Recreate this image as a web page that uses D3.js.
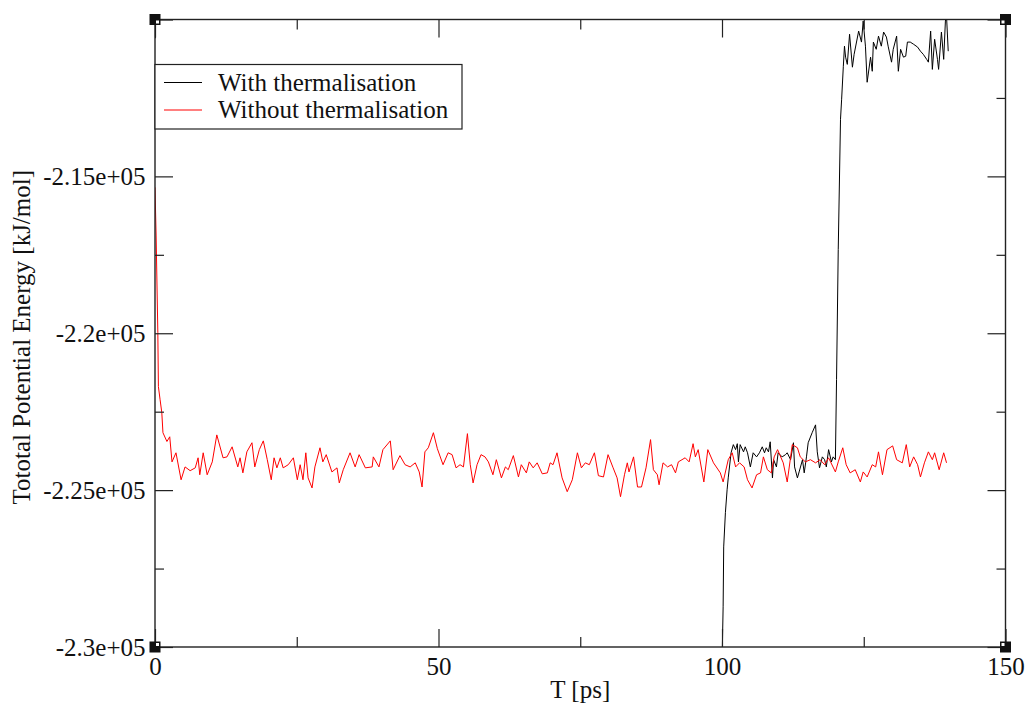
<!DOCTYPE html>
<html>
<head>
<meta charset="utf-8">
<script src="https://cdn.jsdelivr.net/npm/d3@7"></script>
<style>
  body { margin: 0; background: #fff; }
  svg { display: block; font-family: "Liberation Serif", "Times New Roman", serif; }
</style>
</head>
<body>
<div id="chart"></div>
<script>
// Series (time in ps, energy in kJ/mol)
var redTime = [0, 0.2, 0.5, 0.6, 0.9, 1.2, 1.4, 2.1, 2.6, 3.0, 3.7, 4.6, 5.3, 6.2, 7.1, 7.6, 7.9, 8.5, 9.2, 10.1,
  10.9, 12.0, 12.7, 13.6, 14.6, 15.0, 15.5, 16.2, 17.1, 17.6, 18.4, 19.1, 19.8, 20.5, 21.0, 21.5, 22.1, 22.6, 23.5, 24.4,
  25.1, 25.6, 26.1, 26.6, 27.0, 27.7, 28.2, 29.1, 29.6, 30.2, 31.2, 32.1, 32.5, 33.2, 34.4, 35.3, 36.0, 37.1, 38.3, 38.5,
  39.5, 40.2, 41.5, 42.0, 43.2, 44.1, 45.0, 45.9, 46.6, 47.1, 47.6, 48.2, 49.1, 49.8, 50.8, 51.7, 52.4, 53.1, 53.8, 54.4,
  55.1, 55.6, 56.1, 56.8, 57.5, 58.2, 58.8, 59.6, 60.2, 61.1, 61.8, 62.3, 63.2, 64.1, 64.6, 65.5, 66.0, 66.7, 67.4, 68.3,
  69.2, 69.7, 70.2, 70.9, 71.8, 72.7, 73.6, 74.5, 75.2, 75.9, 76.6, 77.5, 78.2, 79.1, 79.9, 80.8, 81.5, 82.1, 82.8, 83.3,
  83.6, 84.4, 85.1, 85.8, 86.6, 87.4, 87.9, 88.6, 88.9, 89.6, 90.4, 91.1, 91.8, 92.3, 93.5, 94.2, 94.9, 95.3, 95.8, 96.8,
  97.5, 98.5, 99.7, 100.2, 101.1, 101.8, 102.4, 103.1, 103.9, 104.5, 105.3, 106.1, 106.8, 107.3, 108.0, 108.7, 109.2, 109.8, 110.8, 111.5,
  112.4, 113.3, 113.8, 114.7, 115.6, 116.5, 117.3, 118.1, 118.8, 120.0, 120.5, 121.3, 121.9, 122.6, 123.5, 124.4, 124.9, 125.6, 126.5, 127.1,
  127.6, 128.3, 129.1, 130.1, 130.8, 131.8, 132.5, 133.1, 133.8, 134.5, 135.0, 135.7, 136.4, 137.1, 137.5, 138.3, 139.1, 139.6];

var redEnergy = [-215350, -216900, -219980, -221700, -222120, -222530, -223170, -223450, -223300, -224100, -223810, -224670, -224260, -224380, -224290, -223970, -224510, -223810, -224510, -224100,
  -223240, -223970, -223940, -223620, -224260, -223970, -224450, -223780, -223490, -224260, -223710, -223430, -224030, -224670, -223970, -224290, -223970, -224290, -224190, -223970,
  -224670, -224190, -224670, -223810, -224610, -224930, -224260, -223650, -224100, -223870, -224420, -224290, -224770, -224350, -223810, -224260, -223870, -224290, -224260, -223940,
  -224260, -223710, -223430, -224350, -223900, -224190, -224260, -224130, -224420, -224900, -223780, -223650, -223170, -223680, -224190, -223810, -223870, -224290, -224190, -224260,
  -223200, -224190, -224770, -224190, -223870, -223940, -224100, -224510, -224030, -224610, -224260, -224350, -223900, -224580, -224190, -224450, -224100, -224290, -224130, -224480,
  -224450, -224130, -224190, -223810, -224610, -225050, -224670, -223810, -224290, -224130, -224190, -223810, -224540, -224580, -223870, -224290, -224610, -225210, -224510, -224130,
  -224420, -223940, -224900, -224900, -224290, -223390, -224350, -224510, -224830, -224130, -224260, -224190, -224450, -224100, -223970, -224100, -223520, -223940, -223710, -224740,
  -223710, -224130, -224450, -224740, -224030, -223810, -224260, -224130, -224260, -224670, -224930, -224510, -224450, -223940, -224350, -224450, -223940, -223710, -224130, -224740,
  -223550, -223650, -223940, -224100, -224030, -224130, -224030, -224190, -223970, -224420, -224100, -223650, -224190, -224450, -224350, -224740, -224420, -224580, -224190, -224260,
  -223780, -224510, -223710, -223590, -224030, -224130, -223550, -224260, -223940, -224190, -224580, -224130, -223780, -224030, -223810, -224350, -223810, -224130];

var blackTime = [0, 0.05, 0.1, 100.0, 100.2, 100.3, 100.6, 100.9, 101.1, 101.6, 102.0, 102.4, 102.7, 102.9, 103.2, 103.8, 104.1, 104.5,
  105.0, 105.5, 106.1, 106.6, 107.1, 107.5, 107.8, 108.2, 108.5, 108.9, 109.1, 109.6, 109.9, 110.6, 111.2, 111.5, 112.1, 112.6,
  112.8, 113.3, 113.6, 114.2, 114.5, 114.9, 115.2, 115.9, 116.5, 116.8, 117.2, 117.7, 118.1, 118.4, 118.8, 119.3, 119.6, 120.0,
  120.2, 120.5, 120.9, 121.1, 121.4, 121.6, 121.8, 122.1, 122.5, 123.0, 123.3, 124.1, 124.6, 124.9, 125.3, 125.6, 126.2, 126.5,
  126.7, 127.2, 127.6, 128.1, 128.5, 129.0, 129.3, 129.9, 130.2, 130.8, 131.1, 131.5, 132.0, 132.4, 132.7, 133.2, 133.8, 134.5,
  135.0, 135.5, 136.1, 136.4, 136.8, 137.1, 137.5, 138.0, 138.2, 138.7, 139.1, 139.4, 139.6, 139.9];

// null marks the break in the black trace between the start and t = 100 ps
var blackEnergy = [-209000, -210600, null, -230600, -228720, -226810, -225720, -224990, -224610, -223810, -223550, -223710, -223520, -224100, -223550, -223780, -223620, -223810,
  -224260, -223810, -223940, -223810, -223620, -223810, -223650, -223780, -223460, -224610, -224030, -224260, -223810, -223940, -223870, -223810, -224030, -223490,
  -224260, -224610, -224420, -224030, -224450, -223940, -223490, -223170, -222920, -223780, -224290, -223940, -224030, -224260, -223710, -224100, -223940, -224030,
  -221480, -217330, -213180, -212540, -211490, -210850, -211200, -211430, -210470, -211520, -211110, -210370, -210720, -210050, -210850, -212000, -211200, -211650,
  -210720, -210950, -210530, -210850, -210400, -210560, -210850, -211360, -210950, -210530, -211650, -210950, -211200, -211170, -210720, -210720, -210790, -210880,
  -211010, -211110, -211270, -211360, -210370, -211590, -210630, -211270, -211590, -210400, -211270, -210050, -209900, -211010];

var xTicksMajor = [0, 50, 100, 150];
var xTicksMinor = [25, 75, 125];
var yTicksMajor = [-230000, -225000, -220000, -215000, -210000];
var yTicksLabelled = [-230000, -225000, -220000, -215000];
var yTicksMinor = [-227500, -222500, -217500, -212500];

var seriesNames = ['With thermalisation', 'Without thermalisation'];
var seriesColors = ['#000000', '#ff0000'];

// Sizes (plot frame in page pixels)
var totalWidth = 1030, totalHeight = 708;
var frameLeft = 155, frameTop = 19.5, frameRight = 1005.5, frameBottom = 647;
var width = frameRight - frameLeft, height = frameBottom - frameTop;
var fontSize = '25px';

var svg = d3.select('#chart')
            .append('svg')
            .attr('width', totalWidth)
            .attr('height', totalHeight);

var x = d3.scaleLinear().domain([0, 150]).range([0, width]);
var y = d3.scaleLinear().domain([-230000, -210000]).range([height, 0]);

var g = svg.append('g')
           .attr('transform', 'translate(' + frameLeft + ',' + frameTop + ')');

g.append('clipPath')
  .attr('id', 'plot-clip')
 .append('rect')
  .attr('width', width)
  .attr('height', height);

function zip(ts, es) {
  return ts.map(function(t, i) { return {t: t, e: es[i]}; });
}

var line = d3.line()
  .defined(function(d) { return d.e !== null; })
  .x(function(d) { return x(d.t); })
  .y(function(d) { return y(d.e); });

var plot = g.append('g').attr('clip-path', 'url(#plot-clip)');

plot.append('path')
  .datum(zip(blackTime, blackEnergy))
  .attr('fill', 'none')
  .attr('stroke', seriesColors[0])
  .attr('stroke-width', 1)
  .attr('d', line);

plot.append('path')
  .datum(zip(redTime, redEnergy))
  .attr('fill', 'none')
  .attr('stroke', seriesColors[1])
  .attr('stroke-width', 1)
  .attr('d', line);

// Ticks on all four sides, pointing inwards
function tickStyle(sel) {
  sel.select('.domain').remove();
  sel.selectAll('.tick line').attr('stroke', '#222').attr('stroke-width', 1.2);
  sel.selectAll('.tick text').attr('fill', '#111').style('font-size', fontSize)
     .style('font-family', '"Liberation Serif", "Times New Roman", serif');
}

g.append('g')
  .attr('transform', 'translate(0,' + height + ')')
  .call(d3.axisBottom(x).tickValues(xTicksMajor).tickSize(-18).tickPadding(10).tickFormat(d3.format('d')))
  .call(tickStyle);
g.append('g')
  .attr('transform', 'translate(0,' + height + ')')
  .call(d3.axisBottom(x).tickValues(xTicksMinor).tickSize(-10).tickFormat(''))
  .call(tickStyle);
g.append('g')
  .call(d3.axisTop(x).tickValues(xTicksMajor).tickSize(-18).tickFormat(''))
  .call(tickStyle);
g.append('g')
  .call(d3.axisTop(x).tickValues(xTicksMinor).tickSize(-10).tickFormat(''))
  .call(tickStyle);

g.append('g')
  .call(d3.axisLeft(y).tickValues(yTicksMajor).tickSize(-18).tickPadding(9.5)
          .tickFormat(function(d) {
            return yTicksLabelled.indexOf(d) >= 0 ? (d / 1e5) + 'e+05' : '';
          }))
  .call(tickStyle);
g.append('g')
  .call(d3.axisLeft(y).tickValues(yTicksMinor).tickSize(-9).tickFormat(''))
  .call(tickStyle);
g.append('g')
  .attr('transform', 'translate(' + width + ',0)')
  .call(d3.axisRight(y).tickValues(yTicksMajor).tickSize(-18).tickFormat(''))
  .call(tickStyle);
g.append('g')
  .attr('transform', 'translate(' + width + ',0)')
  .call(d3.axisRight(y).tickValues(yTicksMinor).tickSize(-9).tickFormat(''))
  .call(tickStyle);

// Frame
g.append('rect')
  .attr('width', width)
  .attr('height', height)
  .attr('fill', 'none')
  .attr('stroke', '#222')
  .attr('stroke-width', 1.4);

// Corner markers
var corners = [[0, 0, 1, 1], [width, 0, -1, 1], [0, height, 1, -1], [width, height, -1, -1]];
corners.forEach(function(c) {
  g.append('rect')
    .attr('x', c[0] - 5.5).attr('y', c[1] - 5.5)
    .attr('width', 11).attr('height', 11)
    .attr('fill', '#111');
  g.append('rect')
    .attr('x', c[2] > 0 ? c[0] + 1 : c[0] - 4)
    .attr('y', c[3] > 0 ? c[1] + 1 : c[1] - 4)
    .attr('width', 3).attr('height', 3)
    .attr('fill', '#fff');
});

// Axis titles
svg.append('text')
  .attr('x', frameLeft + width / 2)
  .attr('y', 698)
  .attr('text-anchor', 'middle')
  .style('font-size', fontSize)
  .attr('fill', '#111')
  .text('T [ps]');

svg.append('text')
  .attr('transform', 'translate(30,' + (frameTop + height / 2 + 4) + ') rotate(-90)')
  .attr('text-anchor', 'middle')
  .style('font-size', fontSize)
  .attr('fill', '#111')
  .text('Tototal Potential Energy [kJ/mol]');

// Legend
var legendBox = g.append('g').attr('transform', 'translate(0,' + (64.5 - frameTop) + ')');
legendBox.append('rect')
  .attr('width', 307)
  .attr('height', 64.5)
  .attr('fill', '#fff')
  .attr('stroke', '#222')
  .attr('stroke-width', 1.2);

var legend = legendBox.selectAll('.legend-item')
  .data(seriesNames)
  .enter()
  .append('g')
  .attr('class', 'legend-item')
  .attr('transform', function(d, i) { return 'translate(0,' + (18 + i * 27.5) + ')'; });

legend.append('line')
  .attr('x1', 9).attr('x2', 47)
  .attr('stroke', function(d, i) { return seriesColors[i]; })
  .attr('stroke-width', 1);

legend.append('text')
  .attr('x', 63)
  .attr('dy', '0.33em')
  .style('font-size', fontSize)
  .attr('fill', '#111')
  .text(function(d) { return d; });
</script>
</body>
</html>
